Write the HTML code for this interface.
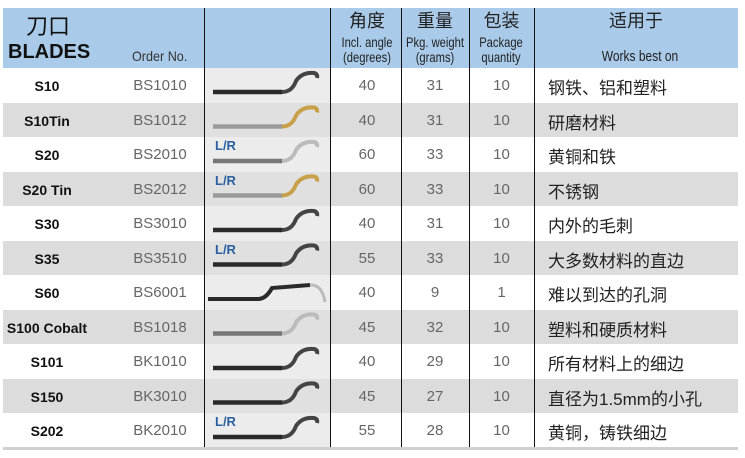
<!DOCTYPE html>
<html><head><meta charset="utf-8"><style>
body{margin:0;width:745px;height:458px;background:#fff;position:relative;overflow:hidden;font-family:"Liberation Sans","Noto Sans CJK SC",sans-serif}
.hd{position:absolute;left:3px;top:8px;width:735px;height:60px;background:#a9cbe9}
.r{position:absolute;left:3px;width:735px;height:34.5px}
.g{background:#dcdcdc}
.t{position:absolute;font-size:15px;color:#666;text-align:center}
.n{position:absolute;left:3px;width:88px;text-align:center;font-weight:bold;font-size:14px;color:#111}
.vl{position:absolute;width:1px;background:#111}
.cn{position:absolute;left:548px;font-size:17px;color:#222}
.img{position:absolute;left:205px;width:125px;height:34.5px}
.lr{position:absolute;left:215px;font-size:13px;font-weight:bold;color:#2a5fa0}
.h{position:absolute;color:#222;text-align:center;font-size:14px;line-height:15px;transform:scaleX(0.8)}
.hc{position:absolute;color:#222;text-align:center;font-size:18px;line-height:20px}
</style></head><body>
<div class="hd"></div>
<div style="position:absolute;left:26px;top:9px;font-size:22px;color:#111">刀口</div>
<div style="position:absolute;left:8px;top:41px;font-size:20px;font-weight:bold;color:#111">BLADES</div>
<div style="position:absolute;left:132px;top:48px;font-size:14px;color:#333;transform:scaleX(0.9);transform-origin:left">Order No.</div>
<div class="hc" style="left:332px;width:70px;top:11px">角度</div>
<div class="h" style="left:322px;width:90px;top:35px">Incl. angle<br>(degrees)</div>
<div class="hc" style="left:401px;width:68px;top:11px">重量</div>
<div class="h" style="left:390px;width:90px;top:35px">Pkg. weight<br>(grams)</div>
<div class="hc" style="left:469px;width:65px;top:11px">包装</div>
<div class="h" style="left:456px;width:90px;top:35px">Package<br>quantity</div>
<div class="hc" style="left:534px;width:204px;top:11px">适用于</div>
<div class="h" style="left:560px;width:160px;top:49px;font-size:15px">Works best on</div>
<div id="rows"></div>
<div style="position:absolute;left:3px;top:447px;width:735px;height:3px;background:#d0d0d0"></div>
<script>
var d=[["S10","BS1010",40,31,10,"钢铁、铝和塑料",0,0],["S10Tin","BS1012",40,31,10,"研磨材料",0,1],["S20","BS2010",60,33,10,"黄铜和铁",1,2],["S20 Tin","BS2012",60,33,10,"不锈钢",1,1],["S30","BS3010",40,31,10,"内外的毛刺",0,0],["S35","BS3510",55,33,10,"大多数材料的直边",1,0],["S60","BS6001",40,9,1,"难以到达的孔洞",0,3],["S100 Cobalt","BS1018",45,32,10,"塑料和硬质材料",0,2],["S101","BK1010",40,29,10,"所有材料上的细边",0,0],["S150","BK3010",45,27,10,"直径为1.5mm的小孔",0,0],["S202","BK2010",55,28,10,"黄铜，铸铁细边",1,0]];
var h="",s="";
d.forEach(function(r,i){var y=68+i*34.5;
h+='<div class="r'+(i%2?' g':'')+'" style="top:'+y+'px"></div>';
h+='<div class="img" style="top:'+y+'px;background:'+(i%2?'#e0e0e0':'#ececec')+'"></div>';
h+='<div class="n" style="top:'+(y+10)+'px">'+r[0]+'</div>';
h+='<div class="t" style="left:128px;width:64px;top:'+(y+9)+'px">'+r[1]+'</div>';
h+='<div class="t" style="left:332px;width:70px;top:'+(y+9)+'px">'+r[2]+'</div>';
h+='<div class="t" style="left:401px;width:68px;top:'+(y+9)+'px">'+r[3]+'</div>';
h+='<div class="t" style="left:469px;width:65px;top:'+(y+9)+'px">'+r[4]+'</div>';
h+='<div class="cn" style="top:'+(y+6)+'px">'+r[5]+'</div>';
if(r[6])h+='<div class="lr" style="top:'+(y+1)+'px">L/R</div>';
var sh=r[7]==1?'#9a9a9a':(r[7]==2?'#777':'#2a2a2a'),hk=r[7]==1?'#c9a04a':(r[7]==2?'#bbb':'#444');
if(r[7]==3){s+='<path d="M208 '+(y+24)+' L258 '+(y+24)+' Q266 '+(y+24)+' 272 '+(y+13)+' L310 '+(y+10)+'" stroke="#2a2a2a" stroke-width="4" fill="none"/><path d="M310 '+(y+10)+' Q322 '+(y+9)+' 325 '+(y+27)+'" stroke="#bbb" stroke-width="3" fill="none"/>';}
else{s+='<path d="M213 '+(y+24)+' L282 '+(y+24)+'" stroke="'+sh+'" stroke-width="4.5" fill="none"/><path d="M282 '+(y+24)+' Q292 '+(y+24)+' 296 '+(y+13)+' Q302 '+(y+4)+' 314 '+(y+5)+' Q318 '+(y+6)+' 317 '+(y+10)+'" stroke="'+hk+'" stroke-width="4" fill="none"/>';}
});
h+='<svg style="position:absolute;left:0;top:0" width="745" height="458">'+s+'</svg>';
[204,330,401,469,534].forEach(function(x){h+='<div class="vl" style="left:'+x+'px;top:8px;height:440px"></div>'});
document.getElementById('rows').innerHTML=h;
</script>
</body></html>
